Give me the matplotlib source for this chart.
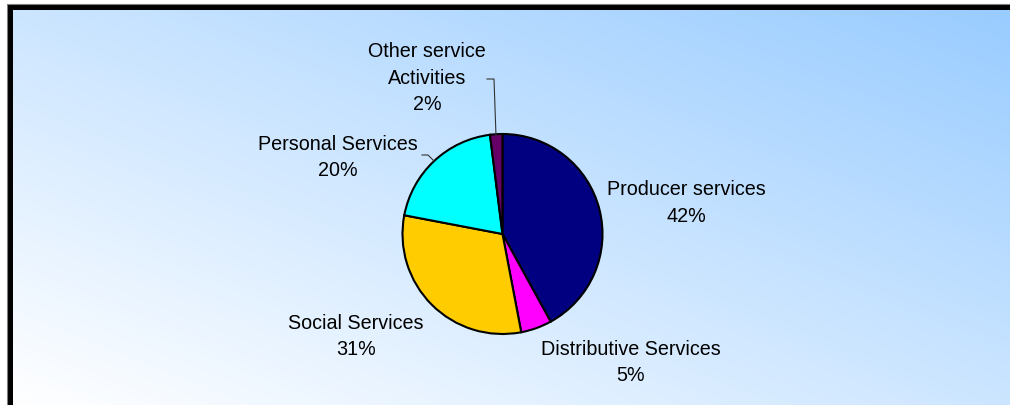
import matplotlib

matplotlib.use("Agg")

import matplotlib.pyplot as plt
import numpy as np
from matplotlib.patches import Rectangle

# service sector shares, clockwise from 12 o'clock
sectors = [
    "Producer services",
    "Distributive Services",
    "Social Services",
    "Personal Services",
    "Other service\nActivities",
]
shares = [42, 5, 31, 20, 2]
slice_colors = ["#000080", "#FF00FF", "#FFCC00", "#00FFFF", "#660066"]

# label anchors (pixel space, y measured from the bottom)
label_xy = [(686, 203), (631, 43.5), (356, 69.5), (338, 248.5), (427, 328)]

W, H = 1010, 406
CENTER = (502.5, H - 235)
RADIUS = 100

fig = plt.figure(figsize=(W / 100, H / 100), dpi=100)
ax = fig.add_axes([0, 0, 1, 1])
ax.set_xlim(0, W)
ax.set_ylim(0, H)
ax.axis("off")

# diagonal background wash: white in the lower left, sky blue in the upper right
u = np.linspace(0, 1, 400)[None, :]
v = np.linspace(0, 1, 200)[:, None]
t = (u + v) / 2
white = np.array([1.0, 1.0, 1.0])
blue = np.array([153, 204, 255]) / 255
grad = white * (1 - t[..., None]) + blue * t[..., None]
ax.imshow(grad, extent=(13, W, 0, H - 11), origin="lower", aspect="auto", zorder=0)

# chart frame (left and top edges)
ax.add_patch(Rectangle((7, 0), 6, H - 5, facecolor="black", edgecolor="none", zorder=1))
ax.add_patch(Rectangle((7, H - 11), W - 7, 6, facecolor="black", edgecolor="none", zorder=1))
ax.plot([7, 7, W], [0, H - 5, H - 5], color="#7f7f7f", lw=0.8, zorder=2)

wedges, _ = ax.pie(
    shares,
    colors=slice_colors,
    startangle=90,
    counterclock=False,
    center=CENTER,
    radius=RADIUS,
    frame=True,
    wedgeprops={"edgecolor": "black", "linewidth": 1.5},
)
ax.set_xlim(0, W)
ax.set_ylim(0, H)
ax.set_aspect("equal")
ax.axis("off")

for name, share, (lx, ly) in zip(sectors, shares, label_xy):
    ax.text(
        lx, ly, f"{name}\n{share}%",
        ha="center", va="center", fontsize=14.2,
        family="Liberation Sans", linespacing=1.5, color="black", zorder=5,
    )

# leader lines for the two small labels
ax.plot([487, 494, 496], [H - 80, H - 80, H - 137], color="#333333", lw=0.8, zorder=4)
ax.plot([422, 428, 434], [H - 156, H - 156, H - 162], color="#333333", lw=0.8, zorder=4)

fig.savefig("out.png", dpi=100)
